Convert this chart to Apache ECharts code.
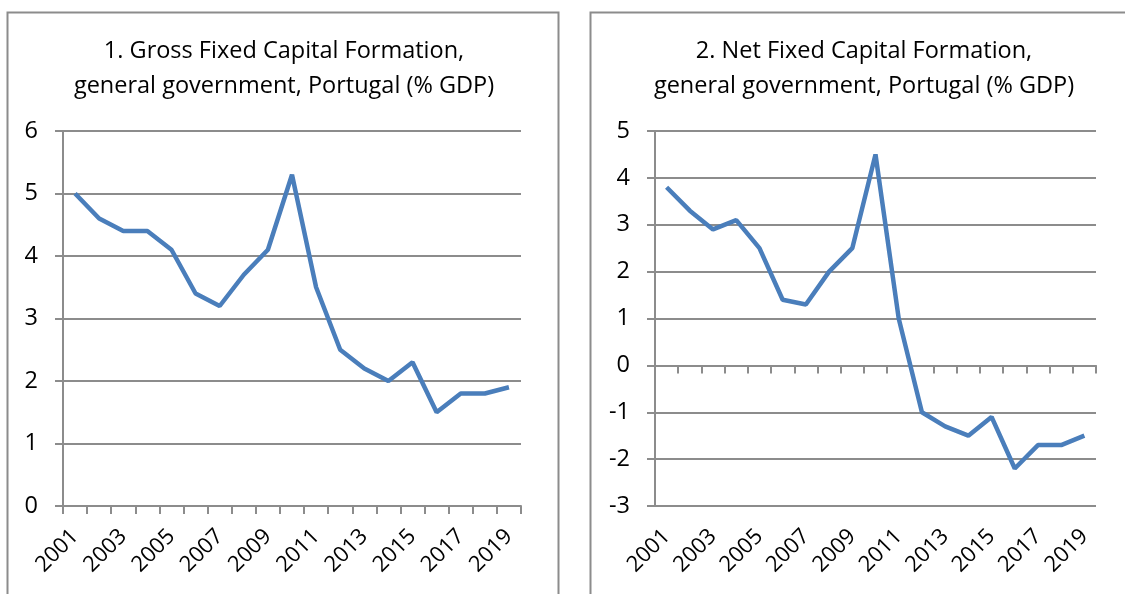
<!DOCTYPE html>
<html>
<head>
<meta charset="utf-8">
<script src="https://cdn.jsdelivr.net/npm/echarts@6/dist/echarts.min.js"></script>
<style>
html,body{margin:0;padding:0;background:#fff;}
#c{width:1125px;height:594px;}
</style>
</head>
<body>
<div id="c"></div>
<script>
const years = ['2001','2002','2003','2004','2005','2006','2007','2008','2009','2010','2011','2012','2013','2014','2015','2016','2017','2018','2019'];
const grossFCF = [5.0,4.6,4.4,4.4,4.1,3.4,3.2,3.7,4.1,5.3,3.5,2.5,2.2,2.0,2.3,1.5,1.8,1.8,1.9];
const netFCF = [3.8,3.3,2.9,3.1,2.5,1.4,1.3,2.0,2.5,4.5,1.0,-1.0,-1.3,-1.5,-1.1,-2.2,-1.7,-1.7,-1.5];
const title1 = '1. Gross Fixed Capital Formation,\ngeneral government, Portugal (% GDP)';
const title2 = '2. Net Fixed Capital Formation,\ngeneral government, Portugal (% GDP)';

const FONT = '"Open Sans", Lato, sans-serif';
const GRAY = '#8c8c8c';
const BLUE = '#4a7ebb';

const chart = echarts.init(document.getElementById('c'));

function labelAxis(gridIndex) {
  return {
    type: 'category', gridIndex: gridIndex, data: years, position: 'bottom',
    boundaryGap: true,
    axisLine: { show: false, onZero: false },
    axisTick: { show: false },
    axisLabel: { interval: 1, rotate: 45, margin: 27, color: '#000', fontSize: 22, fontFamily: FONT },
    splitLine: { show: false }
  };
}
function lineAxis(gridIndex, yIndex) {
  return {
    type: 'category', gridIndex: gridIndex, data: years, position: 'top',
    boundaryGap: true,
    axisLine: { show: true, onZero: true, onZeroAxisIndex: yIndex, lineStyle: { color: GRAY, width: 2 } },
    axisTick: { show: true, inside: true, length: 8, interval: 0, lineStyle: { color: GRAY, width: 2 } },
    axisLabel: { show: false },
    splitLine: { show: false }
  };
}
function valAxis(gridIndex, min, max) {
  return {
    type: 'value', gridIndex: gridIndex, min: min, max: max, interval: 1,
    axisLine: { show: true, lineStyle: { color: GRAY, width: 2 } },
    axisTick: { show: true, length: 8, lineStyle: { color: GRAY, width: 2 } },
    axisLabel: { color: '#000', fontSize: 23.5, fontFamily: FONT, margin: 25 },
    splitLine: { show: true, lineStyle: { color: GRAY, width: 2 } }
  };
}

chart.setOption({
  animation: false,
  backgroundColor: '#fff',
  graphic: [
    { type: 'rect', shape: { x: 7.5, y: 12.5, width: 551, height: 620 }, style: { fill: 'none', stroke: GRAY, lineWidth: 2 } },
    { type: 'rect', shape: { x: 590.5, y: 12.5, width: 560, height: 620 }, style: { fill: 'none', stroke: GRAY, lineWidth: 2 } }
  ],
  title: [
    { text: title1, left: 279, top: 29, textAlign: 'center',
      textStyle: { fontFamily: FONT, fontSize: 23.5, fontWeight: 'normal', color: '#000', lineHeight: 35 } },
    { text: title2, left: 859, top: 29, textAlign: 'center',
      textStyle: { fontFamily: FONT, fontSize: 23.5, fontWeight: 'normal', color: '#000', lineHeight: 35 } }
  ],
  grid: [
    { left: 63, top: 131, width: 458, height: 375 },
    { left: 655, top: 131, width: 441, height: 375 }
  ],
  xAxis: [ labelAxis(0), lineAxis(0, 0), labelAxis(1), lineAxis(1, 1) ],
  yAxis: [ valAxis(0, 0, 6), valAxis(1, -3, 5) ],
  series: [
    { type: 'line', xAxisIndex: 0, yAxisIndex: 0, data: grossFCF, showSymbol: false, symbol: 'none',
      lineStyle: { color: BLUE, width: 4.5 } },
    { type: 'line', xAxisIndex: 2, yAxisIndex: 1, data: netFCF, showSymbol: false, symbol: 'none',
      lineStyle: { color: BLUE, width: 4.5 } }
  ]
});
</script>
</body>
</html>
